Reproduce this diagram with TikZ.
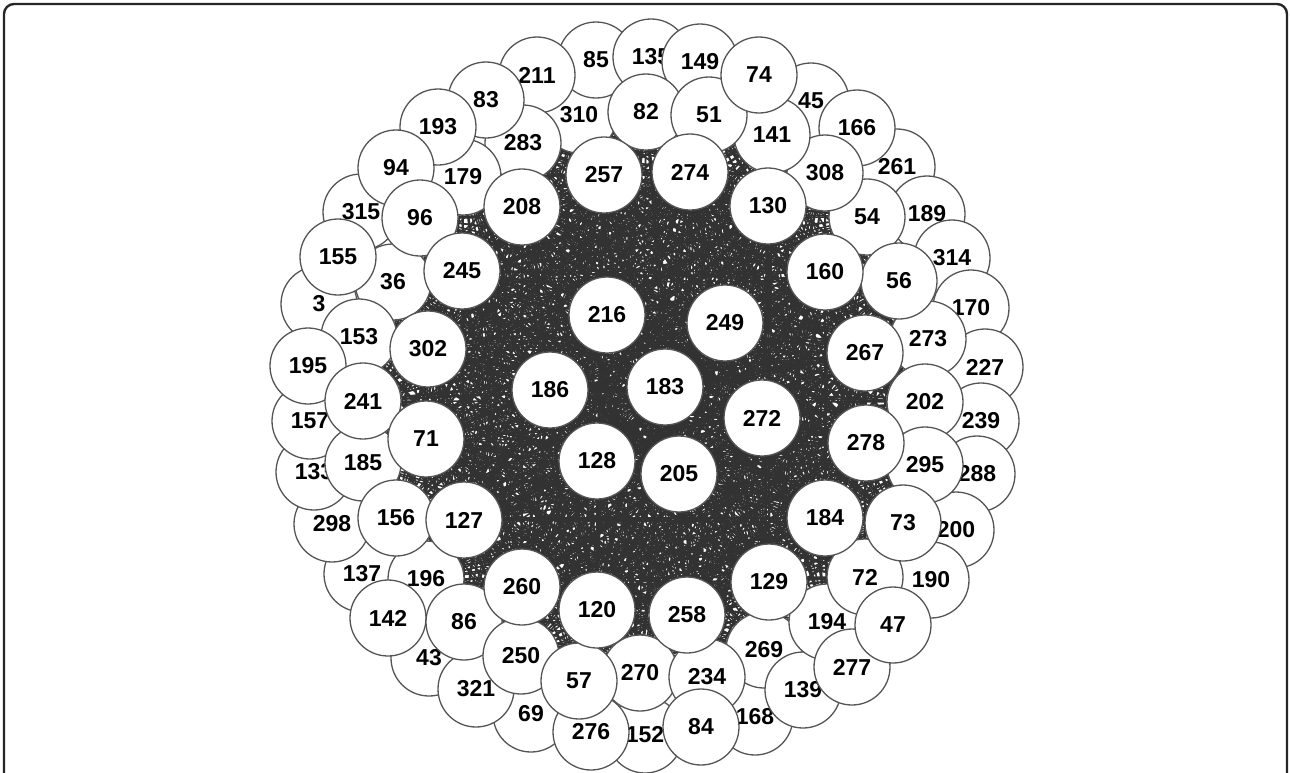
\documentclass[tikz,border=0pt]{standalone}
\usepackage{fontspec}
\setmainfont{Liberation Sans}
\usetikzlibrary{backgrounds}
\definecolor{netlink}{RGB}{50,50,50}
\definecolor{netrim}{RGB}{85,85,85}
\definecolor{netframe}{RGB}{38,38,38}
\newcommand\hubs{216,249,183,186,272,128,205}
\newcommand\midring{257,274,130,160,267,278,184,129,258,120,260,127,71,302,245,208}
\newcommand\innring{310,82,51,141,308,54,56,273,202,295,73,72,194,269,234,270,57,250,86,196,156,185,241,153,36,96,179,283}
\begin{document}
\begin{tikzpicture}[x=0.5pt, y=-0.5pt,
        vtx/.style={circle, draw=netrim, line width=0.65pt, fill=white, minimum size=38pt, inner sep=0pt, font=\fontsize{11.5}{12}\selectfont\bfseries},
        link/.style={draw=netlink, line width=0.8pt}
    ]
        \useasboundingbox (0,0) rectangle (1290,772);
        \clip (0,0) rectangle (1290,772);
        \draw[netframe, line width=1.2pt, rounded corners=5pt] (4,4) rectangle (1287,820);
        \node[vtx] (n310) at (579,115) {310};
        \node[vtx] (n85) at (596,60) {85};
        \node[vtx] (n135) at (651,57) {135};
        \node[vtx] (n149) at (700,62) {149};
        \node[vtx] (n45) at (811,101) {45};
        \node[vtx] (n261) at (897,167) {261};
        \node[vtx] (n189) at (927,214) {189};
        \node[vtx] (n314) at (952,258) {314};
        \node[vtx] (n170) at (971,308) {170};
        \node[vtx] (n227) at (985,367) {227};
        \node[vtx] (n239) at (981,421) {239};
        \node[vtx] (n288) at (977,474) {288};
        \node[vtx] (n200) at (956,530) {200};
        \node[vtx] (n190) at (931,580) {190};
        \node[vtx] (n168) at (755,717) {168};
        \node[vtx] (n152) at (645,735) {152};
        \node[vtx] (n69) at (531,714) {69};
        \node[vtx] (n43) at (429,658) {43};
        \node[vtx] (n321) at (476,689) {321};
        \node[vtx] (n137) at (362,574) {137};
        \node[vtx] (n298) at (332,524) {298};
        \node[vtx] (n133) at (314,472) {133};
        \node[vtx] (n157) at (310,421) {157};
        \node[vtx] (n3) at (319,304) {3};
        \node[vtx] (n315) at (361,212) {315};
        \node[vtx] (n211) at (537,75) {211};
        \node[vtx] (n82) at (646,112) {82};
        \node[vtx] (n283) at (523,143) {283};
        \node[vtx] (n179) at (463,177) {179};
        \node[vtx] (n36) at (393,282) {36};
        \node[vtx] (n153) at (359,337) {153};
        \node[vtx] (n185) at (363,463) {185};
        \node[vtx] (n196) at (426,579) {196};
        \node[vtx] (n270) at (640,673) {270};
        \node[vtx] (n269) at (764,650) {269};
        \node[vtx] (n54) at (867,217) {54};
        \node[vtx] (n273) at (928,339) {273};
        \node[vtx] (n202) at (925,402) {202};
        \node[vtx] (n295) at (925,465) {295};
        \node[vtx] (n83) at (486,100) {83};
        \node[vtx] (n193) at (438,127) {193};
        \node[vtx] (n94) at (396,168) {94};
        \node[vtx] (n155) at (338,257) {155};
        \node[vtx] (n195) at (308,366) {195};
        \node[vtx] (n142) at (388,618) {142};
        \node[vtx] (n276) at (591,732) {276};
        \node[vtx] (n139) at (803,690) {139};
        \node[vtx] (n234) at (707,677) {234};
        \node[vtx] (n166) at (857,128) {166};
        \node[vtx] (n96) at (420,218) {96};
        \node[vtx] (n241) at (363,401) {241};
        \node[vtx] (n156) at (396,518) {156};
        \node[vtx] (n86) at (464,622) {86};
        \node[vtx] (n250) at (521,656) {250};
        \node[vtx] (n57) at (579,681) {57};
        \node[vtx] (n84) at (701,727) {84};
        \node[vtx] (n194) at (827,622) {194};
        \node[vtx] (n277) at (852,667) {277};
        \node[vtx] (n72) at (865,577) {72};
        \node[vtx] (n47) at (893,625) {47};
        \node[vtx] (n73) at (903,523) {73};
        \node[vtx] (n56) at (899,281) {56};
        \node[vtx] (n308) at (825,173) {308};
        \node[vtx] (n141) at (772,135) {141};
        \node[vtx] (n51) at (709,115) {51};
        \node[vtx] (n74) at (759,75) {74};
        \node[vtx] (n257) at (604,175) {257};
        \node[vtx] (n274) at (690,172) {274};
        \node[vtx] (n130) at (768,206) {130};
        \node[vtx] (n160) at (825,272) {160};
        \node[vtx] (n267) at (865,353) {267};
        \node[vtx] (n278) at (866,443) {278};
        \node[vtx] (n184) at (825,518) {184};
        \node[vtx] (n129) at (769,582) {129};
        \node[vtx] (n258) at (687,615) {258};
        \node[vtx] (n120) at (597,610) {120};
        \node[vtx] (n260) at (522,587) {260};
        \node[vtx] (n127) at (464,520) {127};
        \node[vtx] (n71) at (426,439) {71};
        \node[vtx] (n302) at (428,349) {302};
        \node[vtx] (n245) at (462,271) {245};
        \node[vtx] (n208) at (522,207) {208};
        \node[vtx] (n216) at (607,315) {216};
        \node[vtx] (n249) at (725,323) {249};
        \node[vtx] (n183) at (665,387) {183};
        \node[vtx] (n186) at (550,390) {186};
        \node[vtx] (n272) at (762,418) {272};
        \node[vtx] (n128) at (597,461) {128};
        \node[vtx] (n205) at (679,474) {205};
        \begin{scope}[on background layer]
            \foreach \a [count=\i] in \hubs {
                \foreach \b [count=\j] in \hubs {\ifnum\j>\i \draw[link] (n\a) -- (n\b); \fi}
                \foreach \b in \midring {\draw[link] (n\a) -- (n\b);}
                \foreach \b in \innring {\draw[link] (n\a) -- (n\b);}
            }
            \foreach \a [count=\i] in \midring {
                \foreach \b [count=\j] in \midring {\ifnum\j>\i \draw[link] (n\a) -- (n\b); \fi}
                \foreach \b in \innring {\draw[link] (n\a) -- (n\b);}
            }
            \foreach \a [count=\i] in \innring {
                \foreach \b [count=\j] in \innring {\ifnum\j>\i \draw[link] (n\a) -- (n\b); \fi}
            }
        \end{scope}
    \end{tikzpicture}
\end{document}
